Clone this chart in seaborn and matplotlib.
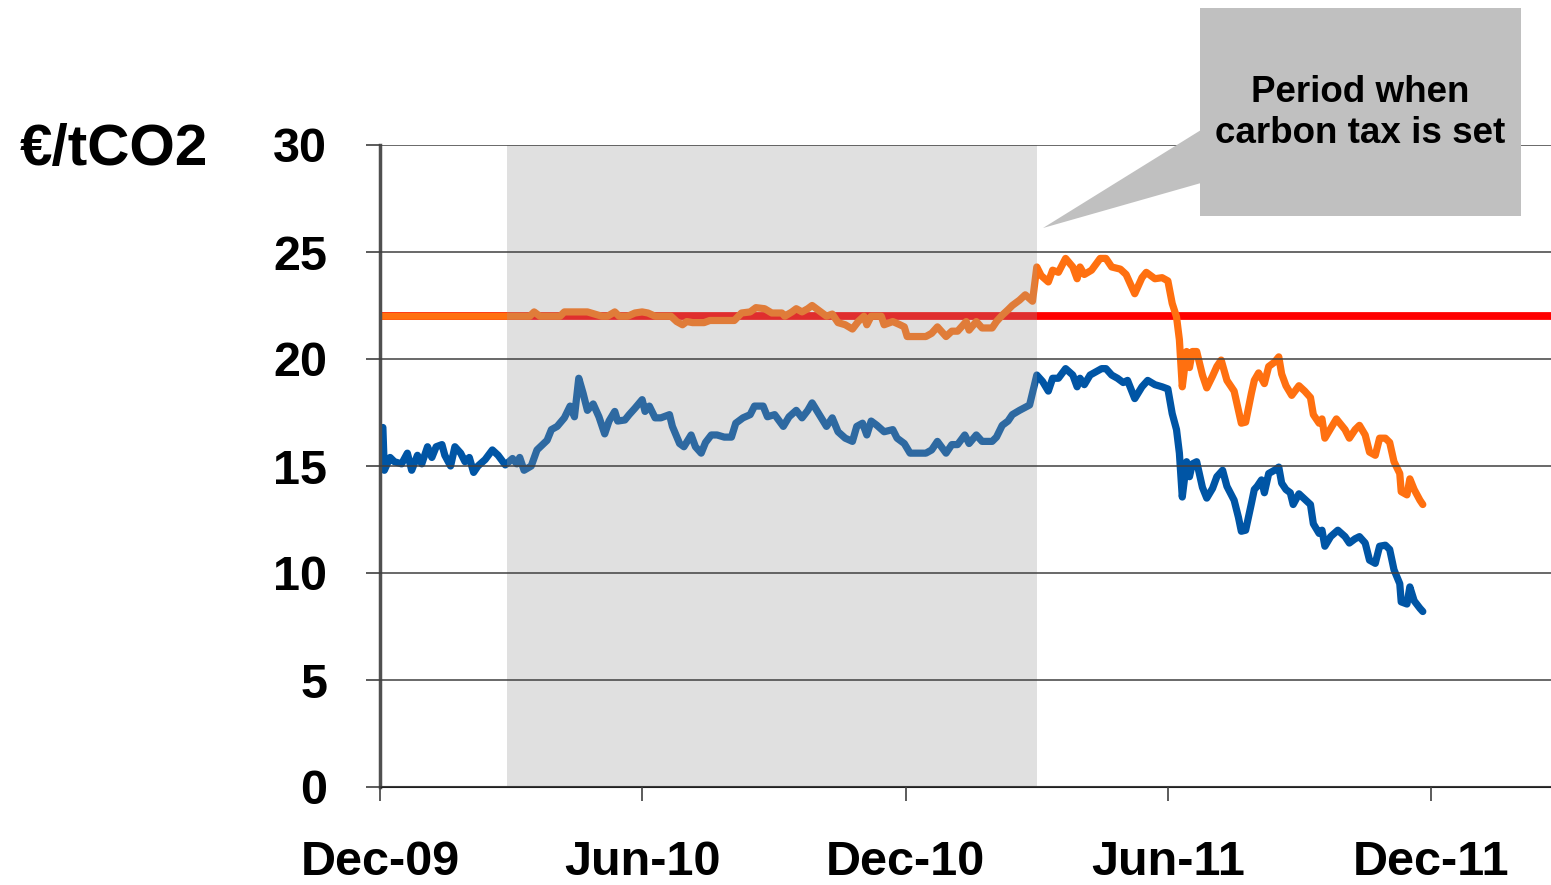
import matplotlib
matplotlib.use("Agg")
import matplotlib.pyplot as plt
import matplotlib.patches as mpatches
import seaborn as sns
import pandas as pd

# ---------------- data ----------------
blue_dates = [
    "2009-12-03", "2009-12-04", "2009-12-08", "2009-12-11", "2009-12-16", "2009-12-20", "2009-12-23", "2009-12-27", "2009-12-30",
    "2010-01-03", "2010-01-06", "2010-01-09", "2010-01-13", "2010-01-15", "2010-01-19", "2010-01-22", "2010-01-26", "2010-01-29",
    "2010-02-01", "2010-02-04", "2010-02-07", "2010-02-12", "2010-02-17", "2010-02-21", "2010-02-26",
    "2010-03-03", "2010-03-06", "2010-03-08", "2010-03-11", "2010-03-16", "2010-03-20", "2010-03-27", "2010-03-30",
    "2010-04-03", "2010-04-08", "2010-04-12", "2010-04-15", "2010-04-18", "2010-04-21", "2010-04-24", "2010-04-28",
    "2010-05-02", "2010-05-06", "2010-05-09", "2010-05-13", "2010-05-15", "2010-05-20", "2010-05-23", "2010-05-27",
    "2010-06-01", "2010-06-03", "2010-06-06", "2010-06-10", "2010-06-14", "2010-06-20", "2010-06-22", "2010-06-27", "2010-06-30",
    "2010-07-05", "2010-07-08", "2010-07-12", "2010-07-15", "2010-07-19", "2010-07-23", "2010-07-28",
    "2010-08-02", "2010-08-05", "2010-08-10", "2010-08-15", "2010-08-18", "2010-08-24", "2010-08-27",
    "2010-09-01", "2010-09-07", "2010-09-11", "2010-09-16", "2010-09-20", "2010-09-24", "2010-09-27",
    "2010-10-02", "2010-10-07", "2010-10-11", "2010-10-15", "2010-10-20", "2010-10-25", "2010-10-28",
    "2010-11-01", "2010-11-04", "2010-11-07", "2010-11-11", "2010-11-16", "2010-11-22", "2010-11-25", "2010-11-30",
    "2010-12-04", "2010-12-09", "2010-12-15", "2010-12-19", "2010-12-23", "2010-12-29",
    "2011-01-02", "2011-01-06", "2011-01-11", "2011-01-14", "2011-01-19", "2011-01-23", "2011-01-30",
    "2011-02-02", "2011-02-06", "2011-02-10", "2011-02-13", "2011-02-18", "2011-02-25",
    "2011-03-02", "2011-03-06", "2011-03-10", "2011-03-13", "2011-03-17", "2011-03-22", "2011-03-27", "2011-03-30",
    "2011-04-01", "2011-04-04", "2011-04-08", "2011-04-12", "2011-04-16", "2011-04-19", "2011-04-23", "2011-04-27",
    "2011-05-01", "2011-05-04", "2011-05-09", "2011-05-14", "2011-05-18", "2011-05-23", "2011-05-28",
    "2011-06-01", "2011-06-04", "2011-06-07", "2011-06-09", "2011-06-11", "2011-06-14", "2011-06-16", "2011-06-18", "2011-06-21", "2011-06-25", "2011-06-28",
    "2011-07-02", "2011-07-05", "2011-07-09", "2011-07-12", "2011-07-17", "2011-07-20", "2011-07-22", "2011-07-25", "2011-07-29", "2011-07-31",
    "2011-08-02", "2011-08-05", "2011-08-07", "2011-08-10", "2011-08-14", "2011-08-17", "2011-08-19", "2011-08-22", "2011-08-25", "2011-08-27", "2011-08-31",
    "2011-09-04", "2011-09-08", "2011-09-10", "2011-09-14", "2011-09-16", "2011-09-18", "2011-09-22", "2011-09-27",
    "2011-10-02", "2011-10-05", "2011-10-09", "2011-10-12", "2011-10-16", "2011-10-19", "2011-10-23", "2011-10-26", "2011-10-30",
    "2011-11-02", "2011-11-05", "2011-11-09", "2011-11-10", "2011-11-14", "2011-11-16", "2011-11-19", "2011-11-23", "2011-11-25",
]
blue_values = [
    16.8, 14.8, 15.4, 15.2, 15.1, 15.6, 14.8, 15.5, 15.1,
    15.9, 15.4, 15.9, 16.0, 15.5, 15.0, 15.9, 15.6, 15.2,
    15.4, 14.7, 15.0, 15.3, 15.75, 15.5, 15.05,
    15.35, 15.1, 15.4, 14.8, 15.0, 15.75, 16.2, 16.7,
    16.85, 17.25, 17.8, 17.3, 19.1, 18.4, 17.6, 17.9,
    17.3, 16.5, 17.1, 17.55, 17.1, 17.15, 17.4, 17.7,
    18.1, 17.55, 17.8, 17.25, 17.25, 17.4, 16.85, 16.05, 15.9,
    16.45, 15.9, 15.6, 16.1, 16.45, 16.45, 16.35,
    16.35, 17.0, 17.25, 17.4, 17.8, 17.8, 17.3,
    17.4, 16.85, 17.3, 17.6, 17.25, 17.6, 17.95,
    17.4, 16.85, 17.25, 16.6, 16.3, 16.15, 16.85,
    17.0, 16.45, 17.1, 16.9, 16.6, 16.7, 16.3, 16.05,
    15.6, 15.6, 15.6, 15.75, 16.15, 15.6,
    16.0, 16.0, 16.45, 16.05, 16.45, 16.15, 16.15,
    16.35, 16.9, 17.1, 17.4, 17.6, 17.85,
    19.25, 18.95, 18.5, 19.1, 19.1, 19.55, 19.25, 18.7,
    19.1, 18.8, 19.25, 19.4, 19.55, 19.55, 19.25, 19.1,
    18.9, 19.0, 18.15, 18.7, 19.0, 18.8, 18.7,
    18.6, 17.45, 16.7, 15.6, 13.55, 15.2, 14.5, 15.1, 15.2, 14.0, 13.5,
    13.95, 14.5, 14.8, 14.05, 13.4, 12.6, 11.95, 12.0, 13.25, 13.9,
    14.05, 14.35, 13.75, 14.65, 14.8, 14.95, 14.2, 13.9, 13.75, 13.2, 13.7,
    13.45, 13.2, 12.3, 11.85, 12.0, 11.25, 11.7, 12.0,
    11.7, 11.4, 11.6, 11.7, 11.4, 10.6, 10.45, 11.25, 11.3,
    11.1, 10.15, 9.5, 8.65, 8.55, 9.35, 8.7, 8.35, 8.2,
]

orange_dates = [
    "2009-12-01", "2010-03-15", "2010-03-18", "2010-03-22", "2010-04-05", "2010-04-08", "2010-04-24", "2010-04-29",
    "2010-05-04", "2010-05-08", "2010-05-13", "2010-05-16", "2010-05-22", "2010-05-27",
    "2010-06-01", "2010-06-05", "2010-06-10", "2010-06-21", "2010-06-25", "2010-06-29",
    "2010-07-02", "2010-07-06", "2010-07-14", "2010-07-18",
    "2010-08-04", "2010-08-09", "2010-08-15", "2010-08-19", "2010-08-25", "2010-08-30",
    "2010-09-06", "2010-09-08", "2010-09-13", "2010-09-16", "2010-09-20", "2010-09-24", "2010-09-27",
    "2010-10-02", "2010-10-07", "2010-10-11", "2010-10-15", "2010-10-20", "2010-10-25", "2010-10-29",
    "2010-11-02", "2010-11-04", "2010-11-07", "2010-11-14", "2010-11-16", "2010-11-22", "2010-11-27", "2010-11-30",
    "2010-12-02", "2010-12-09", "2010-12-15", "2010-12-19", "2010-12-23", "2010-12-29",
    "2011-01-02", "2011-01-06", "2011-01-12", "2011-01-14", "2011-01-19", "2011-01-23", "2011-01-30",
    "2011-02-02", "2011-02-06", "2011-02-10", "2011-02-13", "2011-02-18", "2011-02-22", "2011-02-27",
    "2011-03-02", "2011-03-05", "2011-03-10", "2011-03-13", "2011-03-17", "2011-03-22", "2011-03-27", "2011-03-30",
    "2011-04-01", "2011-04-04", "2011-04-09", "2011-04-15", "2011-04-19", "2011-04-23", "2011-04-29",
    "2011-05-03", "2011-05-09", "2011-05-14", "2011-05-17", "2011-05-23", "2011-05-28",
    "2011-06-01", "2011-06-04", "2011-06-07", "2011-06-09", "2011-06-11", "2011-06-14", "2011-06-16", "2011-06-18", "2011-06-21", "2011-06-25", "2011-06-28",
    "2011-07-02", "2011-07-05", "2011-07-08", "2011-07-12", "2011-07-17", "2011-07-20", "2011-07-22", "2011-07-25", "2011-07-29", "2011-07-31",
    "2011-08-03", "2011-08-07", "2011-08-10", "2011-08-14", "2011-08-17", "2011-08-19", "2011-08-22", "2011-08-26", "2011-08-31",
    "2011-09-04", "2011-09-08", "2011-09-10", "2011-09-14", "2011-09-16", "2011-09-18", "2011-09-22", "2011-09-26",
    "2011-10-02", "2011-10-05", "2011-10-09", "2011-10-12", "2011-10-16", "2011-10-19", "2011-10-23", "2011-10-26", "2011-10-30",
    "2011-11-02", "2011-11-05", "2011-11-09", "2011-11-10", "2011-11-14", "2011-11-16", "2011-11-19", "2011-11-23", "2011-11-25",
]
orange_values = [
    22.0, 22.0, 22.2, 22.0, 22.0, 22.2, 22.2, 22.1,
    22.0, 22.0, 22.2, 22.0, 22.0, 22.15,
    22.2, 22.15, 22.0, 22.0, 21.75, 21.6,
    21.75, 21.7, 21.7, 21.8,
    21.8, 22.15, 22.2, 22.4, 22.35, 22.15,
    22.15, 22.0, 22.2, 22.35, 22.2, 22.35, 22.5,
    22.25, 22.0, 22.1, 21.7, 21.6, 21.4, 21.75,
    22.0, 21.6, 22.0, 22.0, 21.6, 21.75, 21.6, 21.5,
    21.05, 21.05, 21.05, 21.2, 21.5, 21.05,
    21.3, 21.3, 21.75, 21.35, 21.75, 21.45, 21.45,
    21.75, 22.05, 22.3, 22.5, 22.75, 23.0, 22.7,
    24.3, 23.9, 23.6, 24.15, 24.05, 24.7, 24.3, 23.75,
    24.3, 23.95, 24.15, 24.7, 24.7, 24.3, 24.2,
    23.95, 23.05, 23.8, 24.05, 23.75, 23.8,
    23.65, 22.6, 21.97, 20.9, 18.7, 20.35, 19.6, 20.35, 20.35, 19.25, 18.65,
    19.2, 19.65, 19.95, 19.0, 18.5, 17.6, 17.0, 17.05, 18.4, 19.0,
    19.35, 18.85, 19.65, 19.85, 20.1, 19.3, 18.75, 18.3, 18.75,
    18.5, 18.2, 17.4, 17.0, 17.2, 16.3, 16.75, 17.2,
    16.7, 16.3, 16.7, 16.9, 16.45, 15.65, 15.5, 16.3, 16.3,
    16.1, 15.2, 14.65, 13.8, 13.65, 14.4, 13.9, 13.4, 13.2,
]

floor_price = 22.0
shade_start, shade_end = "2010-02-27", "2011-03-02"
x_range = ["2009-12-01", "2012-02-22"]
tick_dates = ["2009-12-01", "2010-06-01", "2010-12-01", "2011-06-01", "2011-12-01"]
tick_labels = ["Dec-09", "Jun-10", "Dec-10", "Jun-11", "Dec-11"]
y_ticks = [0, 5, 10, 15, 20, 25, 30]
unit_label = "€/tCO2"
callout_text = "Period when\ncarbon tax is set"

# ---------------- style ----------------
sns.set_style("white")
plt.rcParams["font.family"] = ["Liberation Sans", "DejaVu Sans"]
plt.rcParams["font.weight"] = "bold"
plt.rcParams["text.color"] = "black"

W, H = 1551, 885
fig = plt.figure(figsize=(W / 100, H / 100), dpi=100)
fig.patch.set_facecolor("white")
ax = fig.add_axes([380 / W, 1 - 787 / H, 1 - 380 / W, (787 - 145) / H])

blue_df = pd.DataFrame({"date": pd.to_datetime(blue_dates), "price": blue_values})
orange_df = pd.DataFrame({"date": pd.to_datetime(orange_dates), "price": orange_values})

ax.axhline(floor_price, color="#ff0000", lw=5.6, zorder=1.8, solid_capstyle="butt")
sns.lineplot(data=orange_df, x="date", y="price", color="#ff7010", lw=5.2,
             estimator=None, zorder=1.9, ax=ax)
sns.lineplot(data=blue_df, x="date", y="price", color="#0055a5", lw=5.2,
             estimator=None, zorder=2.0, ax=ax)
ax.axvspan(pd.Timestamp(shade_start), pd.Timestamp(shade_end),
           facecolor=(0.6, 0.6, 0.6), alpha=0.3, lw=0, zorder=2.2)

ax.set_xlim(pd.Timestamp(x_range[0]), pd.Timestamp(x_range[1]))
ax.set_ylim(0, 30)
ax.set_yticks(y_ticks)
ax.set_xticks(pd.to_datetime(tick_dates))
ax.set_xticklabels(tick_labels)
ax.set_xlabel("")
ax.set_ylabel("")

ax.set_axisbelow(False)
ax.yaxis.grid(True, color="#404040", lw=1.1)
ax.xaxis.grid(False)
for s in ["top", "right"]:
    ax.spines[s].set_visible(False)
ax.spines["left"].set_color("#505050")
ax.spines["left"].set_linewidth(2.5)
ax.spines["bottom"].set_color("#202020")
ax.spines["bottom"].set_linewidth(1.5)

ax.tick_params(axis="both", which="major", left=True, bottom=True, direction="out",
               length=10, width=1.2, color="#404040", labelsize=35, pad=28,
               labelcolor="black")
for lab in ax.get_xticklabels() + ax.get_yticklabels():
    lab.set_fontweight("bold")

fig.text(20 / W, 1 - 150 / H, unit_label, fontsize=42, fontweight="bold",
         color="black", ha="left", va="center")

# callout box with pointer
def fx(px):
    return px / W

def fy(py):
    return 1 - py / H

box = mpatches.Rectangle((fx(1200), fy(216)), fx(1521) - fx(1200), fy(8) - fy(216),
                         transform=fig.transFigure, facecolor="#c0c0c0", edgecolor="none", zorder=5)
wedge = mpatches.Polygon([(fx(1201), fy(130)), (fx(1201), fy(183)), (fx(1043), fy(228))],
                         closed=True, transform=fig.transFigure, facecolor="#c0c0c0",
                         edgecolor="none", zorder=5)
fig.patches.extend([box, wedge])
fig.text(fx(1360), fy(113), callout_text, fontsize=26.5, fontweight="bold",
         color="black", ha="center", va="center", linespacing=1.2, zorder=6)

fig.savefig("out.png", dpi=100, facecolor="white")
